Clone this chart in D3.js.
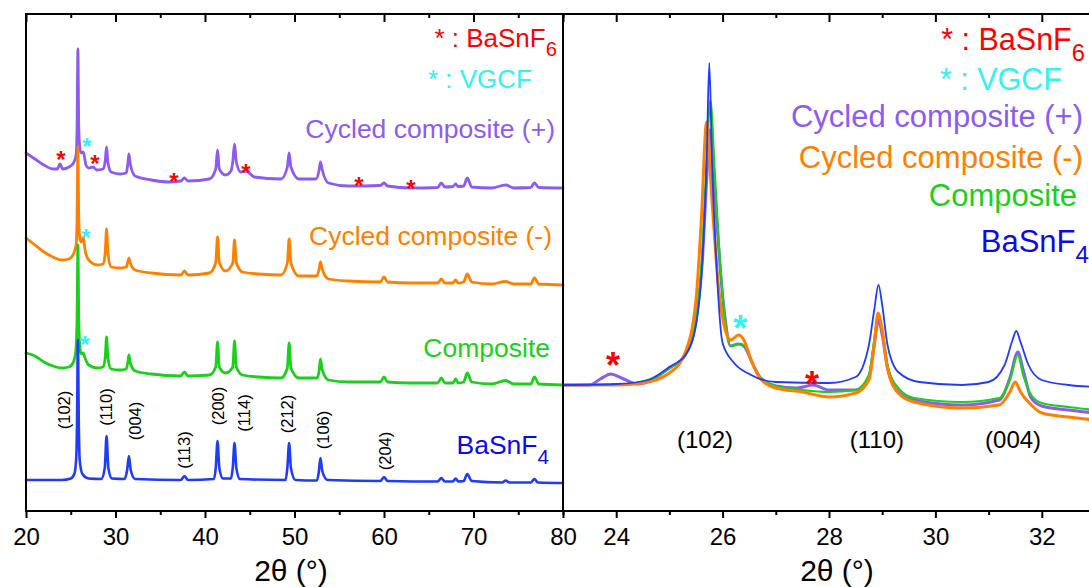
<!DOCTYPE html>
<html><head><meta charset="utf-8">
<script src="https://cdn.jsdelivr.net/npm/d3@7"></script>
<style>
html,body{margin:0;padding:0;background:#fff;}
svg{display:block;font-family:"Liberation Sans",Arial,Helvetica,sans-serif;}
</style></head><body>
<svg id="c" width="1089" height="587"></svg>
<script>
// ---------- DATA (2θ in degrees, intensity in arbitrary offset units) ----------
// Left panel: wide scan 20–80°
const wideCycledPos = [[20,71.4],[21,70.2],[22,69],[23,68.2],[23.5,68.2],[23.8,69.2],[24.1,68.2],[24.8,68.6],[25.3,69.4],[25.6,71],[25.7,76],[25.8,92.2],[25.9,76],[26.05,72],[26.2,71.4],[26.4,71.6],[26.7,69],[27,68.4],[27.5,68.6],[27.9,68],[28.6,68.2],[28.85,69.8],[29,72.6],[29.15,69.6],[29.5,67.6],[30.5,67.2],[31.2,67.4],[31.4,69.6],[31.5,71.2],[31.65,69.2],[32.2,66.8],[34,66],[36,65.6],[37.3,65.8],[37.7,66.4],[38.1,65.8],[40.5,66.2],[41.2,68.2],[41.4,72],[41.6,68.2],[42.3,67],[42.9,67.8],[43.1,69.6],[43.3,73.2],[43.5,69.6],[44,67.6],[44.6,67.8],[45.5,66.6],[48.5,66.2],[49.2,68.6],[49.4,71.4],[49.6,68.6],[50.5,66.2],[52.4,66.2],[52.75,68],[52.9,69.6],[53.1,68],[53.8,65.4],[56,64.8],[59.6,64.9],[60,65.4],[60.4,64.8],[63,64.4],[66,64.5],[66.4,65.4],[66.8,64.6],[67.7,64.7],[68,65.2],[68.3,64.7],[68.9,64.8],[69.3,66.4],[69.8,64.6],[72,64.4],[73.6,65],[74.5,64.4],[76.4,64.5],[76.8,65.4],[77.3,64.5],[80,64.4]];
const wideCycledNeg = [[20,54.4],[21,53],[22,51.6],[23,50.6],[24,50],[24.8,50.2],[25.3,51.2],[25.6,53],[25.7,58],[25.8,72.6],[25.9,58],[26.05,54],[26.2,53.6],[26.4,54.6],[26.6,52],[27,50],[28,49],[28.6,49.2],[28.85,51.5],[29,56.2],[29.15,51.5],[29.5,48.6],[30.5,48.4],[31.2,48.6],[31.4,49.8],[31.5,50.4],[31.65,49.4],[32.2,48],[34,47.4],[37.3,47],[37.7,47.8],[38.1,47],[40.5,47.4],[41.2,49.5],[41.4,54.6],[41.6,49.5],[42.3,47.8],[43.1,49.4],[43.3,54],[43.5,49.4],[44.2,47.6],[46,47.2],[48.5,47],[49.2,49.4],[49.4,54.2],[49.6,49.4],[50.5,46.8],[52.5,46.8],[52.75,48.2],[52.9,49.6],[53.1,48.2],[53.8,46.2],[56,45.8],[59.6,45.6],[60,46.6],[60.4,45.6],[63,45.4],[66,45.4],[66.4,46.2],[66.8,45.4],[67.7,45.4],[68,46],[68.3,45.4],[68.9,45.6],[69.3,47.2],[69.8,45.6],[72,45.2],[73.6,45.7],[74.5,45.2],[76.4,45.2],[76.8,46.4],[77.3,45.2],[80,45]];
const wideComposite = [[20,31.4],[21,30.8],[22,29.6],[23,28.8],[24,28.4],[24.8,28.6],[25.3,29.6],[25.55,31.5],[25.7,38],[25.8,53],[25.9,38],[26.05,32],[26.2,31.2],[26.4,31.4],[26.6,30.4],[27,29],[28,28.4],[28.6,28.6],[28.85,30.5],[29,34.6],[29.15,30.5],[29.5,28.2],[30.5,28],[31.2,28.2],[31.4,29.8],[31.5,31],[31.65,29.4],[32.2,27.8],[34,27.2],[37.3,26.8],[37.7,27.6],[38.1,26.8],[40.5,27],[41.2,28.6],[41.4,33.6],[41.6,28.6],[42.3,27.4],[43.1,28.6],[43.3,33.8],[43.5,28.6],[44.2,27],[46,26.6],[48.5,26.4],[49.2,28.4],[49.4,33.4],[49.6,28.4],[50.5,26.4],[52.5,26.4],[52.75,27.8],[52.9,30.2],[53.1,28],[53.8,26],[56,25.6],[59.6,25.6],[60,26.6],[60.4,25.6],[63,25.4],[66,25.4],[66.4,26.4],[66.8,25.4],[67.7,25.4],[68,26.2],[68.3,25.4],[68.9,25.6],[69.3,27.4],[69.8,25.6],[72,25.2],[73.6,25.9],[74.5,25.2],[76.4,25.2],[76.8,26.6],[77.3,25.2],[80,25]];
const wideBaSnF4 = [[20,6],[24,6],[25,6.3],[25.4,7.2],[25.6,10],[25.7,17],[25.8,34],[25.9,17],[26,10],[26.3,7.2],[27,6.3],[28.4,6.2],[28.8,8.4],[29,14.8],[29.2,8.4],[29.6,6.3],[31,6.2],[31.3,8],[31.5,10.8],[31.7,8],[32.2,6.2],[37.3,6],[37.7,6.8],[38.1,6],[41,6.2],[41.2,8.4],[41.4,13.8],[41.6,8.4],[42,6.3],[42.9,6.3],[43.1,8.4],[43.3,13.4],[43.5,8.4],[43.9,6.2],[49,6],[49.2,8.4],[49.4,13.4],[49.6,8.4],[50.1,6],[52.5,5.9],[52.7,7.4],[52.9,10.4],[53.1,7.8],[53.7,6],[59.6,5.8],[60,6.6],[60.4,5.8],[66,5.7],[66.4,6.4],[66.8,5.7],[67.7,5.7],[68,6.3],[68.3,5.7],[68.9,5.8],[69.3,7.2],[69.8,5.8],[73.2,5.5],[73.6,5.9],[74,5.5],[76.4,5.5],[76.8,6.2],[77.2,5.5],[80,5.4]];

// Right panel: zoom 23–33°
const zoomCycledPos = [[23,25],[23.5,25],[23.7,26.2],[23.9,27.2],[24.1,26.4],[24.4,25.2],[25,28.4],[25.3,31],[25.5,38],[25.62,50],[25.7,66],[25.76,76],[25.85,64],[25.95,49],[26.05,38],[26.15,32.8],[26.3,33.2],[26.4,32.8],[26.55,29.6],[26.7,26.6],[27,24.8],[27.4,24.4],[27.7,25],[28,24],[28.5,24],[28.75,26.6],[28.85,33],[28.93,38],[29,35],[29.1,28.4],[29.3,23.6],[29.6,22],[30.5,21],[31.2,22],[31.4,26.4],[31.55,31.6],[31.65,28],[31.8,22.4],[32,20.8],[32.5,20],[33,19.4]];
const zoomComposite = [[23,25],[24,25],[24.6,26],[25,28.4],[25.3,31],[25.5,38],[25.62,52],[25.7,70],[25.77,82],[25.85,68],[25.95,50],[26.05,38],[26.15,32.8],[26.3,33.2],[26.4,33],[26.55,29.6],[26.7,26.6],[27,24.8],[27.5,24],[28,23.6],[28.5,24],[28.75,27],[28.85,34],[28.93,39],[29,36],[29.1,29],[29.3,24.4],[29.6,22.4],[30.5,21.6],[31.2,22.4],[31.4,26],[31.55,31],[31.65,27],[31.8,23],[32,21.4],[32.5,20.6],[33,20]];
const zoomCycledNeg = [[23,25],[24,25],[24.5,25.4],[25,27.4],[25.3,31.6],[25.5,42],[25.6,58],[25.7,77.6],[25.8,62],[25.92,45],[26.05,36],[26.15,34],[26.3,35],[26.4,34],[26.55,29.6],[26.7,26.4],[27,24.4],[27.5,23.6],[28,22.6],[28.5,23.4],[28.75,26],[28.85,33],[28.92,39.4],[29,36],[29.1,28.4],[29.3,23.4],[29.6,21.6],[30.5,20.4],[31.2,21],[31.4,23.6],[31.5,25.6],[31.6,23.6],[31.8,21],[32,19.4],[32.5,18.6],[33,18]];
const zoomBaSnF4 = [[23,25],[24,25.2],[24.6,26],[25,28.6],[25.3,31],[25.5,37],[25.62,50],[25.7,70],[25.75,89.4],[25.8,70],[25.88,50],[26,33.4],[26.2,29.6],[26.5,27.2],[27,25.6],[28,25.4],[28.5,26.6],[28.75,33],[28.85,40],[28.93,45],[29,41],[29.1,33],[29.3,27.6],[29.7,25.6],[30.5,25],[31,25.6],[31.3,29],[31.45,34],[31.52,35.8],[31.6,33.6],[31.75,29],[32,26],[32.5,25],[33,24.6]];

// Ticks
const wideTicks = [20,30,40,50,60,70,80];
const wideMinor = [25,35,45,55,65,75];
const zoomTicks = [24,26,28,30,32];
const zoomMinor = [23,25,27,29,31,33];

// Reflection labels (label, 2θ, intensity)
const wideHkl = [["(102)",24.25,20],["(110)",28.94,20.6],["(004)",32.18,17.8],["(113)",37.65,12],["(200)",41.45,20.8],["(114)",44.36,19.4],["(212)",49.16,19.2],["(106)",53.18,16],["(204)",60.11,11.8]];
const zoomHkl = [["(102)",25.67,12.4],["(110)",28.9,12.4],["(004)",31.46,12.4]];
// Impurity markers (2θ, intensity)
const wideBaSnF6Marks = [[23.91,71.2],[27.71,70.4],[36.54,66.8],[44.58,68.6],[57.21,66],[63.02,65.4]];
const wideVGCFMarks = [[26.82,73.8],[26.7,55.6],[26.59,34.2]];
const zoomBaSnF6Marks = [[23.94,30.6],[27.68,26.8]];
const zoomVGCFMarks = [[26.33,38]];

const seriesNames = ["Cycled composite (+)","Cycled composite (-)","Composite","BaSnF"];
const colors = {pos:"#8c5cf2", neg:"#ff8000", comp:"#1bd01b", base:"#1f3cf6", baseText:"#0a0aee", red:"#ff0000", cyan:"#33f2f2"};

// ---------- DRAW ----------
const svg = d3.select("#c");
const T = 14, B = 511, L = 26, M = 563, R = 1095;
const xL = d3.scaleLinear().domain([20,80]).range([L,M]);
const xR = d3.scaleLinear().domain([23,33]).range([M,R]);
const y = d3.scaleLinear().domain([0,100]).range([510,10]);

function drawLine(data, xs, color, w){
  svg.append("path").datum(data)
    .attr("fill","none").attr("stroke",color).attr("stroke-width",w)
    .attr("stroke-linejoin","round").attr("stroke-linecap","round")
    .attr("d", d3.line().x(d=>xs(d[0])).y(d=>y(d[1])).curve(d3.curveMonotoneX));
}
// left panel lines
drawLine(wideCycledPos, xL, colors.pos, 2.8);
drawLine(wideCycledNeg, xL, colors.neg, 2.8);
drawLine(wideComposite, xL, colors.comp, 2.8);
drawLine(wideBaSnF4, xL, colors.base, 2.6);
// right panel lines
drawLine(zoomCycledPos, xR, colors.pos, 3);
drawLine(zoomComposite, xR, colors.comp, 2.2);
drawLine(zoomCycledNeg, xR, colors.neg, 3);
drawLine(zoomBaSnF4, xR, colors.base, 1.8);

// Axes
function styleAxis(g){
  g.select(".domain").remove();
  g.selectAll("line").attr("stroke","#000").attr("stroke-width",2);
  g.selectAll("text").attr("font-size",24).attr("fill","#000")
    .attr("font-family",'"Liberation Sans",Arial,sans-serif');
}
function addAxes(xs, major, minor){
  svg.append("g").attr("transform",`translate(0,${B})`)
    .call(d3.axisBottom(xs).tickValues(major).tickSize(7).tickPadding(10).tickFormat(d3.format("d"))).call(styleAxis);
  svg.append("g").attr("transform",`translate(0,${B})`)
    .call(d3.axisBottom(xs).tickValues(minor).tickSize(4).tickFormat("")).call(styleAxis);
  svg.append("g").attr("transform",`translate(0,${T})`)
    .call(d3.axisTop(xs).tickValues(major).tickSize(-8).tickFormat("")).call(styleAxis);
  svg.append("g").attr("transform",`translate(0,${T})`)
    .call(d3.axisTop(xs).tickValues(minor).tickSize(-4).tickFormat("")).call(styleAxis);
}
addAxes(xL, wideTicks, wideMinor);
addAxes(xR, zoomTicks, zoomMinor);

// frame
const frame = svg.append("g").attr("stroke","#000").attr("stroke-width",2).attr("fill","none");
frame.append("line").attr("x1",L).attr("x2",1089).attr("y1",T).attr("y2",T);
frame.append("line").attr("x1",L).attr("x2",1089).attr("y1",B).attr("y2",B);
frame.append("line").attr("x1",L).attr("x2",L).attr("y1",T-1).attr("y2",B+1);
frame.append("line").attr("x1",M).attr("x2",M).attr("y1",T-1).attr("y2",B+1);

// axis titles
function title(x){
  svg.append("text").attr("x",x).attr("y",581).attr("text-anchor","middle")
    .attr("font-size",30).attr("fill","#000").text("2θ (°)");
}
title(291); title(837);

// hkl labels
wideHkl.forEach(d=>{
  svg.append("text").attr("transform",`translate(${xL(d[1])},${y(d[2])}) rotate(-90)`)
    .attr("text-anchor","middle").attr("dominant-baseline","central")
    .attr("font-size",16.5).attr("fill","#000").text(d[0]);
});
zoomHkl.forEach(d=>{
  svg.append("text").attr("x",xR(d[1])).attr("y",y(d[2]))
    .attr("text-anchor","middle").attr("font-size",24).attr("fill","#000").text(d[0]);
});

// asterisk markers
function star(xs, d, color, fs){
  svg.append("text").attr("x",xs(d[0])).attr("y",y(d[1]) + 0.57*fs)
    .attr("text-anchor","middle").attr("font-size",fs).attr("font-weight","bold")
    .attr("fill",color).text("*");
}
wideBaSnF6Marks.forEach(d=>star(xL,d,colors.red,24));
wideVGCFMarks.forEach(d=>star(xL,d,colors.cyan,24));
zoomBaSnF6Marks.forEach(d=>star(xR,d,colors.red,36));
zoomVGCFMarks.forEach(d=>star(xR,d,colors.cyan,36));

// legends
function label(x, yb, fs, color, txt, sub){
  const t = svg.append("text").attr("x",x).attr("y",yb).attr("text-anchor","end")
    .attr("font-size",fs).attr("fill",color);
  t.append("tspan").text(txt);
  if(sub) t.append("tspan").attr("font-size",fs*0.78).attr("dy",fs*0.36).text(sub);
}
// left legend
label(557, 47, 26, colors.red, "* : BaSnF", "6");
label(532, 88, 26, colors.cyan, "* : VGCF");
label(555, 138, 26.5, colors.pos, seriesNames[0]);
label(552, 245, 26.5, colors.neg, seriesNames[1]);
label(550, 357, 26.5, colors.comp, seriesNames[2]);
label(549, 454, 26.5, colors.baseText, seriesNames[3], "4");
// right legend
label(1085, 50, 30.5, colors.red, "* : BaSnF", "6");
label(1062, 90, 30.5, colors.cyan, "* : VGCF");
label(1083, 127, 31, colors.pos, seriesNames[0]);
label(1083, 168, 31, colors.neg, seriesNames[1]);
label(1077, 206, 31, colors.comp, seriesNames[2]);
label(1089, 252, 31, colors.baseText, seriesNames[3], "4");
</script>
</body></html>
